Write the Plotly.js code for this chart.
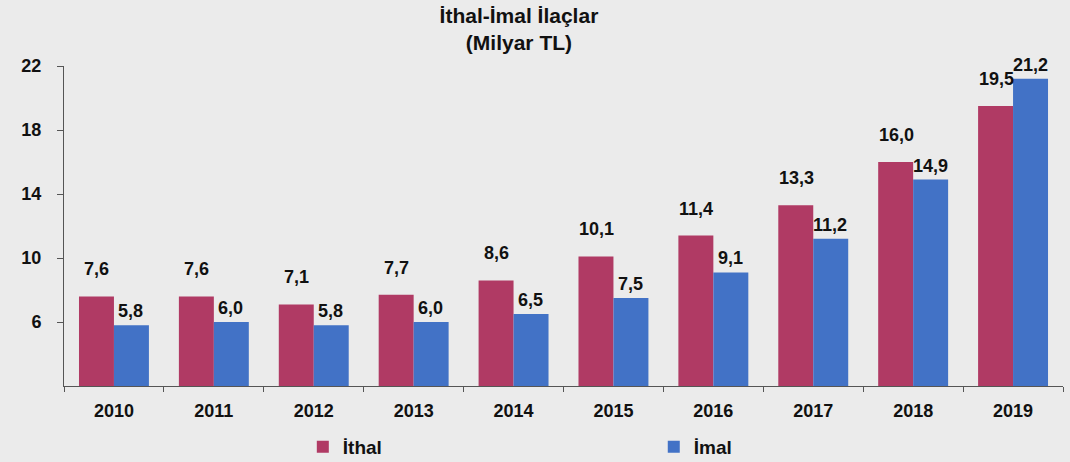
<!DOCTYPE html>
<html><head><meta charset="utf-8">
<script src="https://cdn.plot.ly/plotly-3.0.1.min.js"></script>
<style>html,body{margin:0;padding:0;background:#ebebeb;}</style>
</head><body>
<div id="chart" style="width:1070px;height:462px;"></div>
<script>
const years = ['2010','2011','2012','2013','2014','2015','2016','2017','2018','2019'];
const ithal = [7.6, 7.6, 7.1, 7.7, 8.6, 10.1, 11.4, 13.3, 16.0, 19.5];
const imal  = [5.8, 6.0, 5.8, 6.0, 6.5, 7.5, 9.1, 11.2, 14.9, 21.2];
const yTicks = [6, 10, 14, 18, 22];

const fmt = v => v.toFixed(1).replace('.', ',');
const F = 'Arial, "Liberation Sans", sans-serif';
const cI = '#b03a64', cM = '#4272c6';

const traces = [
  {type:'bar', name:'İthal', x:years, y:ithal, marker:{color:cI}, hoverinfo:'none', legend:'legend'},
  {type:'bar', name:'İmal', x:years, y:imal, marker:{color:cM}, hoverinfo:'none', legend:'legend2'}
];

const ann = [];
years.forEach((yr, i) => {
  ann.push({x:i, y:ithal[i], text:fmt(ithal[i]), xref:'x', yref:'y', showarrow:false,
    xshift:-17, yshift:27, font:{family:F, size:18, color:'#111', weight:'bold'}});
  ann.push({x:i, y:imal[i], text:fmt(imal[i]), xref:'x', yref:'y', showarrow:false,
    xshift:17, yshift:14, font:{family:F, size:18, color:'#111', weight:'bold'}});
});

const legFont = {family:F, size:19, color:'#111', weight:'bold'};
const layout = {
  width:1070, height:462,
  paper_bgcolor:'#ebebeb', plot_bgcolor:'#ebebeb',
  margin:{l:64, r:7, t:66, b:76},
  title:{text:'İthal-İmal İlaçlar<br>(Milyar TL)', x:0.485, xanchor:'center', y:0.95, yanchor:'top',
    font:{family:F, size:21, color:'#111', weight:'bold'}},
  barmode:'group', bargap:0.3, bargroupgap:0,
  xaxis:{type:'category', range:[-0.5, 9.5], autorange:false, automargin:false, showline:true, linecolor:'#555', linewidth:1,
    ticks:'outside', tickson:'boundaries', ticklen:5, tickcolor:'#555', tickangle:0, ticklabelstandoff:8,
    tickfont:{family:F, size:18, color:'#111', weight:'bold'}, showgrid:false, zeroline:false},
  yaxis:{range:[2,22], autorange:false, automargin:false, tickvals:yTicks, ticktext:yTicks.map(String), showline:true, linecolor:'#555', linewidth:1,
    ticks:'outside', ticklen:6, tickcolor:'#555', showgrid:false, zeroline:false,
    tickfont:{family:F, size:18, color:'#111', weight:'bold'}, ticklabelstandoff:12},
  showlegend:true,
  legend:{orientation:'h', xref:'container', yref:'container', x:0.283, y:0.074, xanchor:'left', yanchor:'top', font:legFont, bgcolor:'rgba(0,0,0,0)', itemwidth:30},
  legend2:{orientation:'h', xref:'container', yref:'container', x:0.611, y:0.074, xanchor:'left', yanchor:'top', font:legFont, bgcolor:'rgba(0,0,0,0)', itemwidth:30},
  annotations:ann
};

Plotly.newPlot('chart', traces, layout, {displayModeBar:false, staticPlot:true});
</script>
</body></html>
